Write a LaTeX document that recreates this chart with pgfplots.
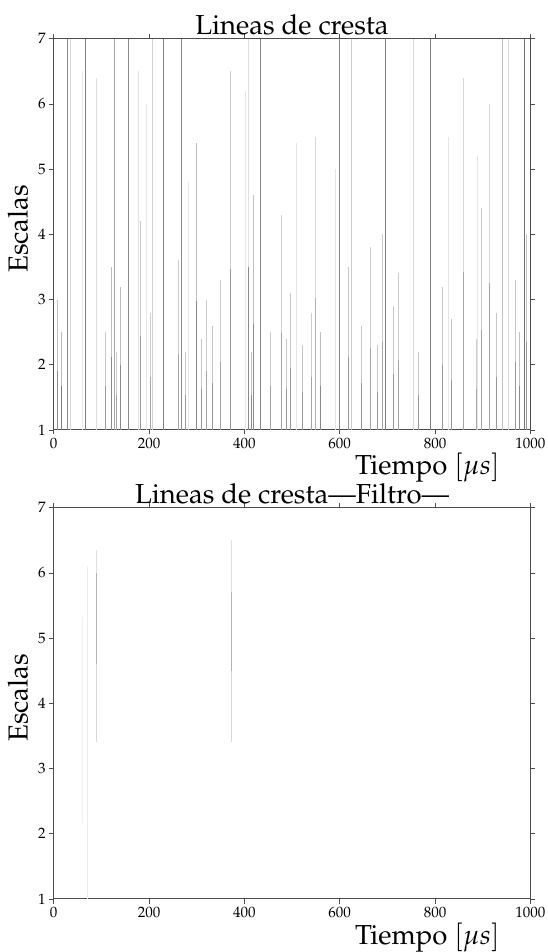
\documentclass[border=0pt]{standalone}
\usepackage[T1]{fontenc}
\usepackage{mathpazo}
\usepackage{pgfplots}
\usepackage{pgfplotstable}
\pgfplotsset{compat=1.18}

% x = time, y = start scale, v = length, c = darkness
\pgfplotstableread{
x y v c
7.6 1 0.9 .45
7.6 1.9 1.1 .25
16.7 1 .675 .5
16.7 1.675 .825 .27
28.6 1 6 .45
36 1 6 .15
60 1 5.5 .08
67 1 6 .5
89 1 5.4 .13
107.6 1 .675 .4
107.6 1.675 .825 .22
121.6 1 1.125 .45
121.6 2.125 1.375 .25
127 1 6 .35
132 1 .54 .35
132 1.54 .66 .2
141 1 .99 .45
141 1.99 1.21 .25
156 1 6 .45
177.5 1 5.5 .12
182.5 1 1.44 .4
182.5 2.44 1.76 .22
193.6 1 5 .1
204 1 .81 .35
204 1.81 .99 .2
207 1 6 .18
231 1 6 .5
261.5 1 1.17 .35
261.5 2.17 1.43 .2
267 1 6 .45
275.4 1 .54 .4
275.4 1.54 .66 .22
282 1 3.8 .1
299 1 1.98 .45
299 2.98 2.42 .25
310.4 1 .63 .4
310.4 1.63 .77 .22
321 1 .9 .35
321 1.9 1.1 .2
333.5 1 .72 .4
333.5 1.72 .88 .22
348.9 1 1.035 .35
348.9 2.035 1.265 .2
370 1 2.475 .4
370 3.475 3.025 .2
403 1 5.2 .1
408.3 1 2.5 .45
408.3 3.5 3.5 .12
413.9 1 .54 .45
413.9 1.54 .66 .25
418.8 1 1.62 .45
418.8 2.62 1.98 .25
434 1 6 .45
453.7 1 .675 .35
453.7 1.675 .825 .2
476.8 1 1.485 .35
476.8 2.485 1.815 .18
488.7 1 .63 .4
488.7 1.63 .77 .22
497 1 .945 .4
497 1.945 1.155 .22
510 1 4.4 .1
522 1 .585 .4
522 1.585 .715 .22
541 1 .81 .35
541 1.81 .99 .2
550 1 2.025 .3
550 3.025 2.475 .15
560 1 .675 .45
560 1.675 .825 .25
590 1 4 .1
600 1 6 .45
618 1 1.125 .4
618 2.125 1.375 .22
625 1 6 .2
646 1 .72 .4
646 1.72 .88 .22
663.5 1 1.26 .35
663.5 2.26 1.54 .2
679 1 .585 .4
679 1.585 .715 .22
690 1 1.35 .35
690 2.35 1.65 .2
696 1 6 .5
712 1 .855 .4
712 1.855 1.045 .22
723 1 1.08 .35
723 2.08 1.32 .2
754 1 6 .15
765 1 .54 .4
765 1.54 .66 .22
790 1 6 .5
816 1 .99 .4
816 1.99 1.21 .22
828 1 4.5 .1
835 1 .765 .4
835 1.765 .935 .22
860 1 2.43 .35
860 3.43 2.97 .15
886 1 .63 .35
886 1.63 .77 .2
889 1 4.2 .1
898 1 1.53 .35
898 2.53 1.87 .2
914 1 2.25 .35
914 3.25 2.75 .15
929 1 .81 .4
929 1.81 .99 .22
942 1 6 .25
954 1 6 .15
968 1 1.035 .4
968 2.035 1.265 .22
977 1 .675 .45
977 1.675 .825 .25
987 1 6 .55
992 1 1.35 .4
992 2.35 1.65 .22
}\datatop

\pgfplotstableread{
x y v c
60.8 2.17 3.16 .06
70.5 1 5.1 .07
90.2 3.4 1.2 .15
90.2 4.6 1.4 .3
90.2 6.0 0.35 .12
372 3.4 1.1 .15
372 4.5 1.2 .3
372 5.7 0.8 .12
}\databot

\pgfplotsset{
  ridge/.style={
    scale only axis, width=476.7pt, height=391.3pt,
    xmin=0, xmax=1000, ymin=1, ymax=7,
    xtick={0,200,...,1000}, ytick={1,2,...,7},
    /pgf/number format/1000 sep={},
    tick align=outside, xtick pos=both, ytick pos=both,
    xticklabel pos=bottom, yticklabel pos=left,
    major tick length=4.5pt,
    axis line style={black!70, line width=1pt},
    every tick/.style={black!70, line width=0.8pt},
    tick label style={font=\fontsize{15}{18}\selectfont},
    title style={at={(axis description cs:0.5,1)}, anchor=base, yshift=-1.6pt, font=\fontsize{27.5}{33}\selectfont},
    xlabel style={at={(axis description cs:0.943,0)}, anchor=base east, yshift=-45pt, font=\fontsize{27.5}{33}\selectfont},
    ylabel style={at={(axis description cs:-0.046,0.514)}, anchor=south, font=\fontsize{27.5}{33}\selectfont},
    xlabel={Tiempo $[\mu s]$}, ylabel={Escalas},
    colormap={bw}{color=(white) color=(black)},
    point meta min=0, point meta max=1,
  }
}

\begin{document}
\begin{tikzpicture}
\path[use as bounding box] (0,0) rectangle (547pt,952pt);
\begin{axis}[ridge, at={(53.7pt,522pt)}, anchor=south west, title={Lineas de cresta}]
\addplot[quiver={u=0, v=\thisrow{v}, colored=mapped color}, point meta=\thisrow{c}, line width=0.9pt] table[x=x, y=y] {\datatop};
\end{axis}
\begin{axis}[ridge, at={(53.7pt,53pt)}, anchor=south west, title={Lineas de cresta---Filtro---}]
\addplot[quiver={u=0, v=\thisrow{v}, colored=mapped color}, point meta=\thisrow{c}, line width=0.9pt] table[x=x, y=y] {\databot};
\end{axis}
\end{tikzpicture}
\end{document}
